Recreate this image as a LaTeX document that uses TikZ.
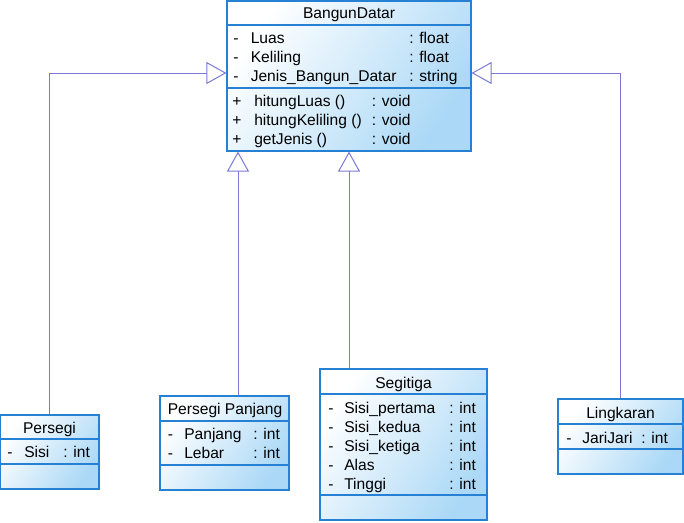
\documentclass[tikz,border=0pt]{standalone}
\usepackage{fontspec}
\setmainfont{Liberation Sans}
\usetikzlibrary{positioning}
\usetikzlibrary{calc}
\usetikzlibrary{arrows.meta}
\definecolor{umlborder}{RGB}{38,128,212}
\definecolor{umlfill}{RGB}{170,216,246}
\definecolor{umlline}{RGB}{122,122,214}

\tikzset{
    umlclass/.style={draw=umlborder, line width=0.85pt, rectangle, inner sep=0pt,
        top color=white, bottom color=umlfill, shading angle=55},
    umlsep/.style={draw=umlborder, line width=0.85pt},
    umltext/.style={anchor=base west, inner sep=0pt},
    umltitle/.style={anchor=base, inner sep=0pt},
    inherit/.style={draw=umlline, line width=0.75pt,
        -{Triangle[open, length=15pt, width=16.5pt]}},
}

\begin{document}
\begin{tikzpicture}[x=0.75pt, y=-0.75pt, font=\fontsize{11.7}{14}\selectfont]
    \useasboundingbox (0,0) rectangle (684,522);
    % class boxes
    \node[umlclass, minimum width=183pt, minimum height=112.5pt] (bd) at (349,76) {};
    \node[umlclass, minimum width=74.25pt, minimum height=55.5pt] (persegi) at (49.5,452) {};
    \node[umlclass, minimum width=96.75pt, minimum height=70.5pt] (pp) at (224.5,443) {};
    \node[umlclass, minimum width=125.25pt, minimum height=113.25pt] (segitiga) at (403.5,444.5) {};
    \node[umlclass, minimum width=93.75pt, minimum height=56.25pt] (lingkaran) at (620.5,436.5) {};

    % compartments
    \draw[umlsep] (bd.west |- 0,25) -- (bd.east |- 0,25);
    \draw[umlsep] (bd.west |- 0,88) -- (bd.east |- 0,88);
    \draw[umlsep] (persegi.west |- 0,439) -- (persegi.east |- 0,439);
    \draw[umlsep] (persegi.west |- 0,464) -- (persegi.east |- 0,464);
    \draw[umlsep] (pp.west |- 0,421) -- (pp.east |- 0,421);
    \draw[umlsep] (pp.west |- 0,465) -- (pp.east |- 0,465);
    \draw[umlsep] (segitiga.west |- 0,394) -- (segitiga.east |- 0,394);
    \draw[umlsep] (segitiga.west |- 0,495) -- (segitiga.east |- 0,495);
    \draw[umlsep] (lingkaran.west |- 0,424) -- (lingkaran.east |- 0,424);
    \draw[umlsep] (lingkaran.west |- 0,449) -- (lingkaran.east |- 0,449);

    % BangunDatar
    \node[umltitle] (bd-title) at (349,18) {BangunDatar};
    \foreach \i/\y/\name/\type in {1/43/Luas/float, 2/62/Keliling/float, 3/81/Jenis\_Bangun\_Datar/string} {
        \node[umltext] (bd-v\i) at (233,\y) {-};
        \node[umltext] (bd-a\i) at (250.5,\y) {\name};
        \node[umltext] (bd-t\i) at (409,\y) {: \type};
    }
    \foreach \i/\y/\name in {1/106/hitungLuas (), 2/125/hitungKeliling (), 3/144/getJenis ()} {
        \node[umltext] (bd-p\i) at (232,\y) {+};
        \node[umltext] (bd-m\i) at (254,\y) {\name};
        \node[umltext] (bd-r\i) at (371.5,\y) {: void};
    }

    % Persegi
    \node[umltitle] (persegi-title) at (49.5,433) {Persegi};
    \node[umltext] (persegi-v1) at (7,457) {-};
    \node[umltext] (persegi-a1) at (24,457) {Sisi};
    \node[umltext] (persegi-t1) at (63,457) {: int};

    % Persegi Panjang
    \node[umltitle] (pp-title) at (225,414) {Persegi Panjang};
    \foreach \i/\y/\name in {1/439/Panjang, 2/458/Lebar} {
        \node[umltext] (pp-v\i) at (167.5,\y) {-};
        \node[umltext] (pp-a\i) at (184,\y) {\name};
        \node[umltext] (pp-t\i) at (253,\y) {: int};
    }

    % Segitiga
    \node[umltitle] (segitiga-title) at (403.5,388) {Segitiga};
    \foreach \i/\y/\name in {1/413/Sisi\_pertama, 2/432/Sisi\_kedua, 3/451/Sisi\_ketiga, 4/470/Alas, 5/489/Tinggi} {
        \node[umltext] (sg-v\i) at (328,\y) {-};
        \node[umltext] (sg-a\i) at (344,\y) {\name};
        \node[umltext] (sg-t\i) at (449,\y) {: int};
    }

    % Lingkaran
    \node[umltitle] (lingkaran-title) at (620.5,418) {Lingkaran};
    \node[umltext] (lingkaran-v1) at (566,443) {-};
    \node[umltext] (lingkaran-a1) at (582,443) {JariJari};
    \node[umltext] (lingkaran-t1) at (641,443) {: int};

    % generalisation
    \draw[inherit] (persegi.north) |- ([yshift=2.25pt]bd.west);
    \draw[inherit] (lingkaran.north) |- ([yshift=2.25pt]bd.east);
    \draw[inherit] (pp.north -| 238,0) -- (bd.south -| 238,0);
    \draw[inherit] (segitiga.north -| 349,0) -- (bd.south -| 349,0);
\end{tikzpicture}
\end{document}
